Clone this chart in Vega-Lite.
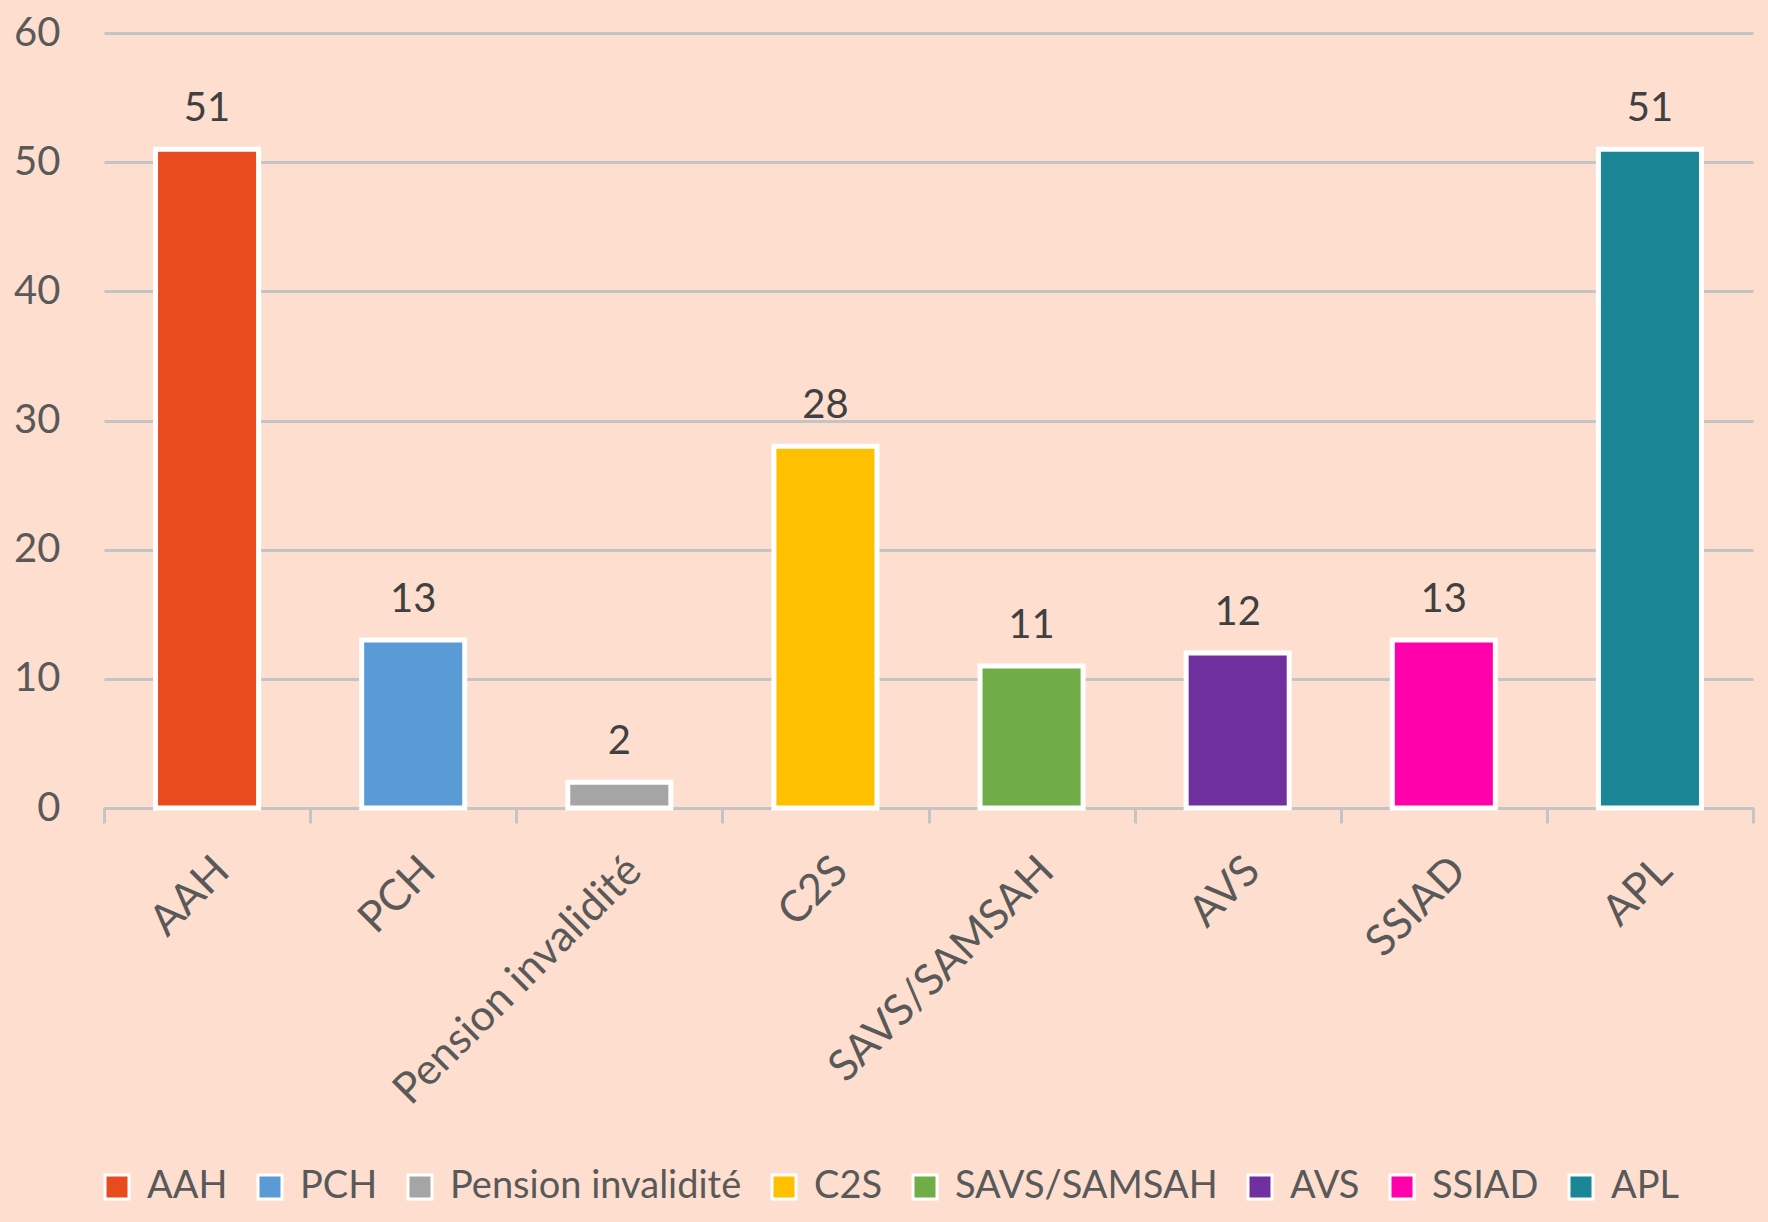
{
  "$schema": "https://vega.github.io/schema/vega-lite/v6.json",
  "width": 1649,
  "height": 775,
  "autosize": {"type": "none"},
  "padding": {"left": 104, "top": 33, "right": 15, "bottom": 414},
  "background": "#FEDFCF",
  "config": {"view": {"stroke": null}, "font": "Lato"},
  "data": {
    "values": [
      {"cat": "AAH", "val": 51},
      {"cat": "PCH", "val": 13},
      {"cat": "Pension invalidité", "val": 2},
      {"cat": "C2S", "val": 28},
      {"cat": "SAVS/SAMSAH", "val": 11},
      {"cat": "AVS", "val": 12},
      {"cat": "SSIAD", "val": 13},
      {"cat": "APL", "val": 51}
    ]
  },
  "encoding": {
    "x": {
      "field": "cat",
      "type": "nominal",
      "sort": null,
      "scale": {"paddingInner": 0, "paddingOuter": 0},
      "axis": {
        "title": null,
        "labelAngle": -45,
        "labelFontSize": 43,
        "labelColor": "#595959",
        "labelLimit": 1000,
        "tickBand": "extent",
        "tickSize": 15,
        "tickColor": "#C4C4C4",
        "tickWidth": 3,
        "domainColor": "#C4C4C4",
        "domainWidth": 3,
        "labelPadding": 26
      }
    },
    "y": {
      "field": "val",
      "type": "quantitative",
      "scale": {"domain": [0, 60]},
      "axis": {
        "title": null,
        "values": [0, 10, 20, 30, 40, 50, 60],
        "domain": false,
        "ticks": false,
        "labelFontSize": 40,
        "labelColor": "#595959",
        "labelPadding": 44,
        "gridColor": "#C4C4C4",
        "gridWidth": 3
      }
    }
  },
  "layer": [
    {
      "mark": {"type": "bar", "stroke": "white", "strokeWidth": 5, "width": {"band": 0.5}},
      "encoding": {
        "color": {
          "field": "cat",
          "type": "nominal",
          "sort": null,
          "scale": {
            "domain": ["AAH", "PCH", "Pension invalidité", "C2S", "SAVS/SAMSAH", "AVS", "SSIAD", "APL"],
            "range": ["#E84C1E", "#5B9BD5", "#A5A5A5", "#FFC000", "#70AD47", "#7030A0", "#FF00AA", "#1A8696"]
          },
          "legend": {
            "orient": "none",
            "legendX": -6,
            "legendY": 1135,
            "direction": "horizontal",
            "columns": 8,
            "title": null,
            "labelFontSize": 38,
            "labelColor": "#595959",
            "labelLimit": 1000,
            "symbolType": "square",
            "symbolSize": 576,
            "symbolStrokeColor": "white",
            "symbolStrokeWidth": 3,
            "symbolOpacity": 1,
            "columnPadding": 23,
            "labelOffset": 11
          }
        }
      }
    },
    {
      "mark": {"type": "text", "dy": -28, "baseline": "alphabetic", "fontSize": 40, "color": "#404040"},
      "encoding": {"text": {"field": "val", "type": "quantitative"}}
    }
  ]
}
